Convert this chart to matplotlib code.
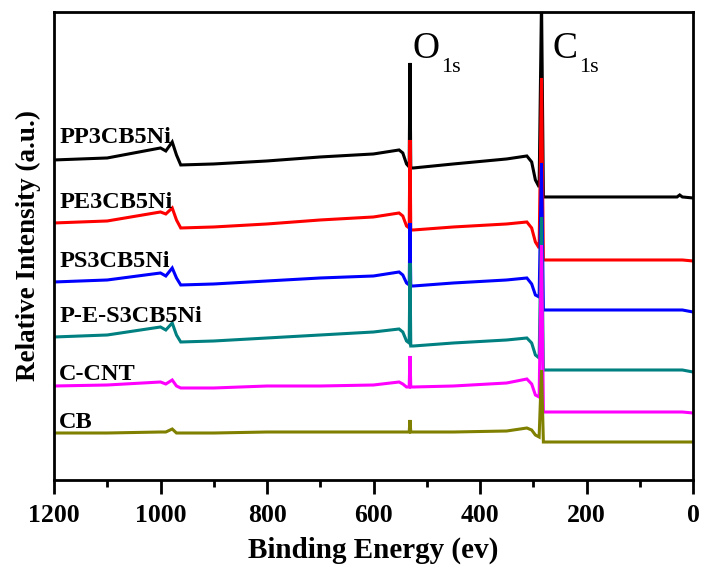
"""XPS survey spectra: CB, C-CNT and the Ni composites."""
import matplotlib
matplotlib.use("Agg")
import matplotlib.pyplot as plt
from matplotlib.ticker import MultipleLocator, NullLocator

# binding energy (eV) of the read-off points, shared by all curves
energy = [1200, 1100, 1000, 990, 978, 970, 962, 900, 800, 700, 600, 552, 545,
          538, 533, 531.5, 530, 525, 450, 350, 312, 303, 296, 289, 284.5, 281,
          200, 100, 30, 25, 20, 0]

# relative intensity (arbitrary units, stacked offsets included)
pp3cb5ni = [320, 322, 332, 329, 338, 325, 315, 316, 319, 323, 326, 330, 327,
            316, 313, 417, 312, 312, 316, 321, 324, 318, 300, 293, 480, 283,
            283, 283, 283, 285, 283, 282]
pe3cb5ni = [257, 259, 268, 266, 272, 260, 252, 253, 256, 260, 263, 267, 264,
            254, 252, 340, 250, 250, 253, 256, 258, 252, 238, 232, 402, 220,
            220, 220, 220, 220, 220, 219]
ps3cb5ni = [198, 200, 207, 204, 212, 202, 195, 196, 199, 202, 204, 208, 205,
            197, 195, 257, 194, 194, 197, 200, 202, 196, 185, 183, 317, 170,
            170, 170, 170, 170, 170, 168]
pes3cb5ni = [143, 145, 153, 150, 157, 145, 138, 139, 142, 145, 148, 151, 148,
             139, 137, 217, 134, 134, 137, 140, 142, 137, 125, 122, 263, 110,
             110, 110, 110, 110, 110, 108]
c_cnt = [94, 95, 98, 96, 100, 94, 92, 92, 94, 94, 95, 98, 96,
         93, 93, 124, 93, 93, 94, 97, 101, 96, 85, 83, 235, 68,
         68, 68, 68, 68, 68, 67]
cb = [47, 47, 48, 48, 51, 47, 47, 47, 48, 48, 48, 48, 48,
      48, 48, 60, 48, 48, 48, 49, 52, 50, 45, 43, 110, 38,
      38, 38, 38, 38, 38, 38]

names = ["PP3CB5Ni", "PE3CB5Ni", "PS3CB5Ni", "P-E-S3CB5Ni", "C-CNT", "CB"]
series = [pp3cb5ni, pe3cb5ni, ps3cb5ni, pes3cb5ni, c_cnt, cb]
colors = ["#000000", "#ff0000", "#0000ff", "#008080", "#ff00ff", "#808000"]
label_y = [337, 272, 213, 158, 100, 52]

SERIF = ["Liberation Serif", "DejaVu Serif"]


def main() -> None:
    plt.rcParams["font.family"] = SERIF
    fig = plt.figure(figsize=(7.04, 5.69), dpi=100)
    ax = fig.add_axes([0.0767, 0.1564, 0.9077, 0.8226])

    for ys, c in zip(series, colors):
        ax.plot(energy, ys, color=c, lw=2.2, solid_joinstyle="miter")

    for name, y in zip(names, label_y):
        ax.text(1190, y, name, fontsize=17.5, fontweight="bold",
                va="baseline", ha="left")

    # peak labels
    ax.text(527.7, 422, "O", fontsize=27, va="baseline")
    ax.text(473, 408, "1s", fontsize=16, va="baseline")
    ax.text(264.8, 422, "C", fontsize=27, va="baseline")
    ax.text(214, 408, "1s", fontsize=16, va="baseline")

    ax.set_xlim(1200, 0)
    ax.set_ylim(0, 468)
    ax.xaxis.set_major_locator(MultipleLocator(200))
    ax.xaxis.set_minor_locator(MultipleLocator(100))
    ax.yaxis.set_major_locator(NullLocator())
    ax.tick_params(axis="x", which="major", direction="out", length=10,
                   width=2, pad=7, labelsize=18.5)
    ax.tick_params(axis="x", which="minor", direction="out", length=5,
                   width=2)
    for lab in ax.get_xticklabels():
        lab.set_fontweight("bold")
    for sp in ax.spines.values():
        sp.set_linewidth(2)

    ax.set_xlabel("Binding Energy (ev)", fontsize=21, fontweight="bold",
                  labelpad=7)
    ax.set_ylabel("Relative Intensity (a.u.)", fontsize=19.5,
                  fontweight="bold", labelpad=9)

    fig.savefig("out.png", dpi=100)


if __name__ == "__main__":
    main()
